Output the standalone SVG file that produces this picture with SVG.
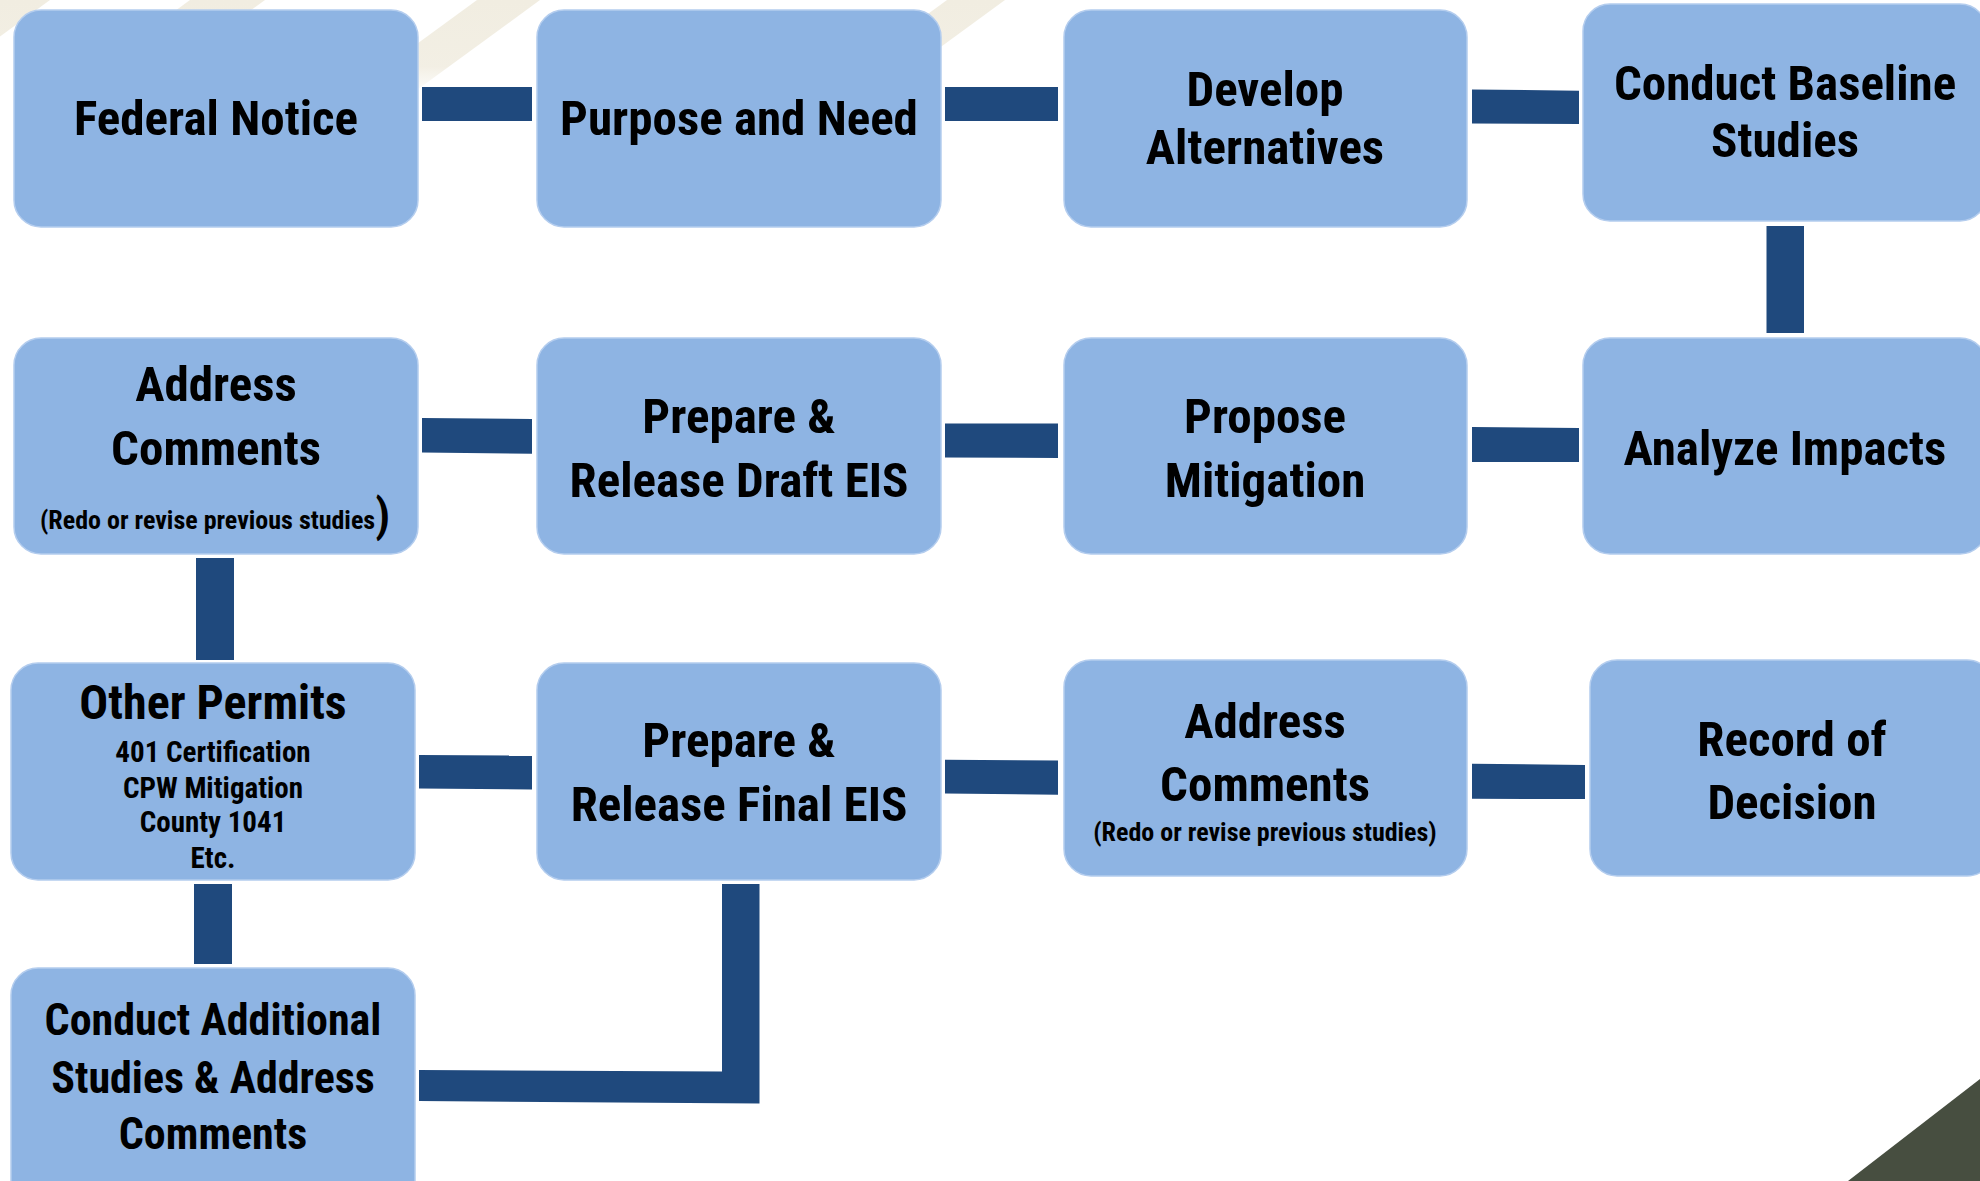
<svg xmlns="http://www.w3.org/2000/svg" width="1980" height="1181" viewBox="0 0 1980 1181">
<defs>
<linearGradient id="fade" gradientUnits="userSpaceOnUse" x1="0" y1="0" x2="0" y2="95">
<stop offset="0" stop-color="#F1EDE1" stop-opacity="1"/>
<stop offset="0.7" stop-color="#F1EDE1" stop-opacity="0.9"/>
<stop offset="1" stop-color="#F1EDE1" stop-opacity="0"/>
</linearGradient>
<style>
.box{fill:#8EB4E3;stroke:#B4CDEE;stroke-width:1.5}
.con{fill:#1F497D}
.t{font-family:"Liberation Sans Narrow","Roboto Condensed","DejaVu Sans Condensed","Liberation Sans",sans-serif;font-stretch:condensed;font-weight:bold;fill:#000;text-anchor:middle}
.big{font-size:49px}
.mid{font-size:44px}
.sm{font-size:26px}
.xs{font-size:29px}
</style>
</defs>
<rect x="0" y="0" width="1980" height="1181" fill="#FFFFFF"/>
<g id="background">
<polygon points="-20,0 50,0 -80,95 -150,95" fill="url(#fade)"/>
<polygon points="190,0 265,0 135,95 60,95" fill="url(#fade)"/>
<polygon points="477,0 540,0 410,95 347,95" fill="url(#fade)"/>
<polygon points="947,0 1005,0 875,95 817,95" fill="url(#fade)"/>
<polygon points="1980,1079 1980,1181 1848,1181" fill="#474E40"/>
</g>
<g id="connectors">
<rect class="con" x="422" y="87" width="110" height="34"/>
<rect class="con" x="945" y="87" width="113" height="34"/>
<polygon class="con" points="1472,89.5 1579,90.7 1579,124 1472,123.4"/>
<rect class="con" x="1766.5" y="226" width="37.5" height="107"/>
<polygon class="con" points="1472,427 1579,428 1579,462 1472,462"/>
<polygon class="con" points="945,423.5 1058,423.6 1058,458 945,457.5"/>
<polygon class="con" points="422,418 532,419 532,453.7 422,452.6"/>
<rect class="con" x="196" y="558" width="38" height="102"/>
<polygon class="con" points="419,755 532,755.5 532,789.4 419,788.6"/>
<polygon class="con" points="945,759.7 1058,760.4 1058,794.7 945,793.5"/>
<polygon class="con" points="1472,763.8 1585,765 1585,799 1472,798.8"/>
<rect class="con" x="194" y="884" width="38" height="80"/>
<polygon class="con" points="419,1070 722,1071.5 722,884 759.5,884 759.5,1103.5 419,1101"/>
</g>
<g id="federal-notice">
<rect class="box" x="14" y="10" width="404" height="217" rx="27"/>
<text class="t big" x="216" y="135">Federal Notice</text>
</g>
<g id="purpose-need">
<rect class="box" x="537" y="10" width="404" height="217" rx="27"/>
<text class="t big" x="739" y="135">Purpose and Need</text>
</g>
<g id="develop-alternatives">
<rect class="box" x="1064" y="10" width="403" height="217" rx="27"/>
<text class="t big" x="1265" y="106">Develop</text>
<text class="t big" x="1265" y="164">Alternatives</text>
</g>
<g id="conduct-baseline">
<rect class="box" x="1583" y="4" width="404" height="217" rx="27"/>
<text class="t big" x="1785" y="100">Conduct Baseline</text>
<text class="t big" x="1785" y="157">Studies</text>
</g>
<g id="address-comments-1">
<rect class="box" x="14" y="338" width="404" height="216" rx="27"/>
<text class="t big" x="216" y="401">Address</text>
<text class="t big" x="216" y="465">Comments</text>
<text class="t sm" x="215" y="529">(Redo or revise previous studies<tspan font-size="46px" dy="2">)</tspan></text>
</g>
<g id="draft-eis">
<rect class="box" x="537" y="338" width="404" height="216" rx="27"/>
<text class="t big" x="739" y="433">Prepare &amp;</text>
<text class="t big" x="739" y="497">Release Draft EIS</text>
</g>
<g id="propose-mitigation">
<rect class="box" x="1064" y="338" width="403" height="216" rx="27"/>
<text class="t big" x="1265" y="433">Propose</text>
<text class="t big" x="1265" y="497">Mitigation</text>
</g>
<g id="analyze-impacts">
<rect class="box" x="1583" y="338" width="404" height="216" rx="27"/>
<text class="t big" x="1785" y="465">Analyze Impacts</text>
</g>
<g id="other-permits">
<rect class="box" x="11" y="663" width="404" height="217" rx="27"/>
<text class="t" font-size="48px" x="213" y="719">Other Permits</text>
<text class="t xs" x="213" y="762">401 Certification</text>
<text class="t xs" x="213" y="798">CPW Mitigation</text>
<text class="t xs" x="213" y="832">County 1041</text>
<text class="t xs" x="213" y="868">Etc.</text>
</g>
<g id="final-eis">
<rect class="box" x="537" y="663" width="404" height="217" rx="27"/>
<text class="t big" x="739" y="757">Prepare &amp;</text>
<text class="t big" x="739" y="821">Release Final EIS</text>
</g>
<g id="address-comments-2">
<rect class="box" x="1064" y="660" width="403" height="216" rx="27"/>
<text class="t big" x="1265" y="738">Address</text>
<text class="t big" x="1265" y="801">Comments</text>
<text class="t sm" x="1265" y="841">(Redo or revise previous studies)</text>
</g>
<g id="record-of-decision">
<rect class="box" x="1590" y="660" width="404" height="216" rx="27"/>
<text class="t big" x="1792" y="756">Record of</text>
<text class="t big" x="1792" y="819">Decision</text>
</g>
<g id="conduct-additional">
<rect class="box" x="11" y="968" width="404" height="240" rx="27"/>
<text class="t mid" x="213" y="1035">Conduct Additional</text>
<text class="t mid" x="213" y="1093">Studies &amp; Address</text>
<text class="t mid" x="213" y="1149">Comments</text>
</g>
</svg>
